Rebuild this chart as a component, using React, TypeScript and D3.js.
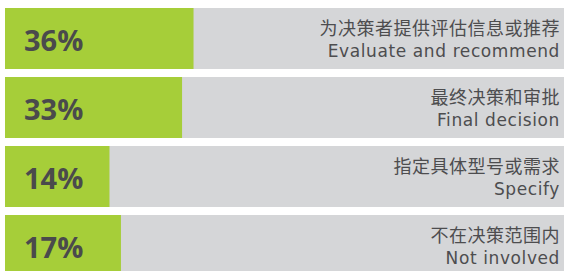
import * as d3 from "d3";
import React, {useEffect, useRef} from "react";

const percents = [36, 33, 14, 17];
const labelsZh = ["为决策者提供评估信息或推荐", "最终决策和审批", "指定具体型号或需求", "不在决策范围内"];
const labelsEn = ["Evaluate and recommend", "Final decision", "Specify", "Not involved"];

const App: React.FC = () => {
  const ref = useRef<SVGSVGElement | null>(null);

  useEffect(() => {
    const svg = d3.select(ref.current);
    svg.selectAll('*').remove();

    const width = 567;
    const height = 271;
    const left = 5;
    const right = 564;

    svg.attr("width", width).attr("height", height);

    const yScale = d3
      .scaleBand<number>()
      .domain(percents.map((_, i) => i))
      .range([8, 276])
      .paddingInner(8 / 69)
      .paddingOuter(0);

    // bars carry a fixed base for the label, then grow with the value
    const xScale = d3.scaleLinear().domain([0, 100]).range([56, 438]);

    const groups = svg
      .selectAll('.row')
      .data(percents)
      .enter()
      .append('g')
      .attr('class', 'row')
      .attr('transform', (_, i) => `translate(0, ${yScale(i)})`);

    groups
      .append('rect')
      .attr('x', left)
      .attr('width', right - left)
      .attr('height', yScale.bandwidth())
      .attr('fill', '#d5d6d8');

    groups
      .append('rect')
      .attr('x', left)
      .attr('width', (d) => xScale(d) - left)
      .attr('height', yScale.bandwidth())
      .attr('fill', '#a6ce39');

    groups
      .append('text')
      .attr('x', 24)
      .attr('y', 43)
      .attr('fill', '#4a4a4c')
      .style('font-family', '"Open Sans", sans-serif')
      .style('font-weight', 700)
      .style('font-size', '29px')
      .text((d) => `${d}%`);

    groups
      .append('text')
      .attr('x', 560)
      .attr('y', 27)
      .attr('text-anchor', 'end')
      .attr('fill', '#4d4d4f')
      .style('font-family', '"Noto Sans CJK SC", sans-serif')
      .style('font-size', '18px')
      .style('letter-spacing', '0.5px')
      .text((_, i) => labelsZh[i]);

    groups
      .append('text')
      .attr('x', 560)
      .attr('y', 49)
      .attr('text-anchor', 'end')
      .attr('fill', '#4d4d4f')
      .style('font-family', '"DejaVu Sans", sans-serif')
      .style('font-size', '17px')
      .style('letter-spacing', '0.6px')
      .text((_, i) => labelsEn[i]);

    return () => {
      svg.selectAll('*').remove();
    };
  }, []);

  return <svg ref={ref} style={{position: 'absolute', left: 0, top: 0}} />;
};

export default App;
